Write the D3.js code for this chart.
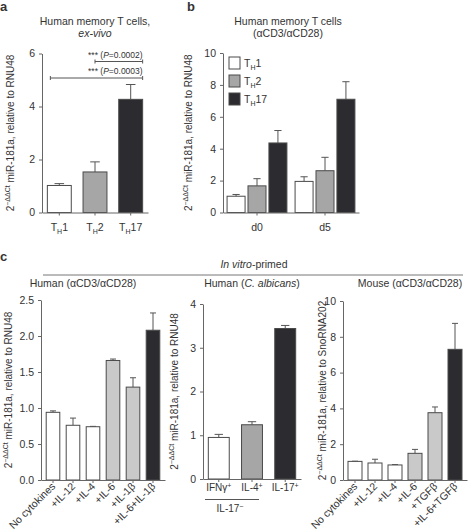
<!DOCTYPE html>
<html>
<head>
<meta charset="utf-8">
<script src="https://cdn.jsdelivr.net/npm/d3@7"></script>
<style>
  body { margin: 0; background: #fff; }
  svg text { font-family: "Liberation Sans", Arial, sans-serif; fill: #333; }
</style>
</head>
<body>
<svg id="fig" width="471" height="532"></svg>
<script>
// panel a - ex vivo
var aCats = ["TH1", "TH2", "TH17"];
var aMeans = [1.02, 1.53, 4.27];
var aErr = [0.07, 0.38, 0.56];
var aTicks = [0, 2, 4, 6];

// panel b - aCD3/aCD28 over time
var bDays = ["d0", "d5"];
var bSubsets = ["TH1", "TH2", "TH17"];
var bD0Means = [1.02, 1.67, 4.36];
var bD0Err = [0.11, 0.45, 0.78];
var bD5Means = [1.95, 2.62, 7.1];
var bD5Err = [0.29, 0.84, 1.1];
var bTicks = [0, 2, 4, 6, 8, 10];

// panel c1 - human aCD3/aCD28
var c1Cats = ["No cytokines", "+IL-12", "+IL-4", "+IL-6", "+IL-1\u03b2", "+IL-6+IL-1\u03b2"];
var c1Means = [0.94, 0.76, 0.74, 1.66, 1.29, 2.08];
var c1Err = [0.02, 0.1, 0.005, 0.02, 0.13, 0.24];
var c1Ticks = [0, 0.5, 1.0, 1.5, 2.0, 2.5];

// panel c2 - human C. albicans
var c2Cats = ["IFN\u03b3", "IL-4", "IL-17"];
var c2Means = [0.95, 1.24, 3.44];
var c2Err = [0.07, 0.07, 0.07];
var c2Ticks = [0, 1, 2, 3, 4];

// panel c3 - mouse
var c3Cats = ["No cytokines", "+IL-12", "+IL-4", "+IL-6", "+TGF\u03b2", "+IL-6+TGF\u03b2"];
var c3Means = [1.04, 0.95, 0.84, 1.49, 3.76, 7.3];
var c3Err = [0.01, 0.21, 0.02, 0.22, 0.32, 1.45];
var c3Ticks = [0, 2, 4, 6, 8, 10];

var WHITE = "#ffffff", MID = "#a6a6a6", LIGHT = "#c9c9c9", DARK = "#2b2b30";
var svg = d3.select("#fig");

function ylabel(x, yMid, ref) {
  var t = svg.append("text")
    .attr("transform", "translate(" + x + "," + yMid + ") rotate(-90)")
    .attr("text-anchor", "middle")
    .attr("font-size", 10);
  t.append("tspan").text("2");
  t.append("tspan").attr("font-size", 7).attr("dy", -4).text("\u2212\u0394\u0394Ct");
  t.append("tspan").attr("dy", 4).text(" miR-181a, relative to " + ref);
}

function subText(sel, base, sub, rest) {
  sel.append("tspan").text(base);
  sel.append("tspan").attr("font-size", 7).attr("dy", 2.5).text(sub);
  sel.append("tspan").attr("dy", -2.5).text(rest);
}

function yAxis(y, x0, ticks, fmt) {
  var g = svg.append("g").attr("transform", "translate(" + x0 + ",0)")
    .call(d3.axisLeft(y).tickValues(ticks).tickSize(3).tickSizeOuter(0).tickPadding(4).tickFormat(fmt));
  g.select(".domain").attr("stroke", "#666");
  g.selectAll(".tick line").attr("stroke", "#666");
  g.selectAll(".tick text").attr("font-size", 10.5).attr("fill", "#333")
    .attr("font-family", "Liberation Sans, Arial, sans-serif");
}

function xAxis(x, y0) {
  var g = svg.append("g").attr("transform", "translate(0," + y0 + ")")
    .call(d3.axisBottom(x).tickSize(3).tickSizeOuter(0).tickFormat(""));
  g.select(".domain").attr("stroke", "#666");
  g.selectAll(".tick line").attr("stroke", "#666");
}

function bars(cats, means, errs, colors, x, y, xOff) {
  var g = svg.append("g");
  var bw = x.bandwidth();
  var cap = Math.max(6, bw * 0.4);
  cats.forEach(function(c, i) {
    var cx = xOff + x(c) + bw / 2;
    g.append("line")
      .attr("x1", cx).attr("x2", cx)
      .attr("y1", y(means[i])).attr("y2", y(means[i] + errs[i]))
      .attr("stroke", "#555").attr("stroke-width", 1);
    g.append("line")
      .attr("x1", cx - cap / 2).attr("x2", cx + cap / 2)
      .attr("y1", y(means[i] + errs[i])).attr("y2", y(means[i] + errs[i]))
      .attr("stroke", "#555").attr("stroke-width", 1);
    g.append("rect")
      .attr("x", xOff + x(c)).attr("y", y(means[i]))
      .attr("width", bw).attr("height", y(0) - y(means[i]))
      .attr("fill", colors[i]).attr("stroke", "#4a4a4a").attr("stroke-width", 1);
  });
}

function panelLabel(txt, x, y) {
  svg.append("text").attr("x", x).attr("y", y).attr("font-size", 13)
    .attr("font-weight", "bold").attr("fill", "#111").text(txt);
}

// ---------- panel a ----------
panelLabel("a", 0, 11);
var aY = d3.scaleLinear().domain([0, 6]).range([212.5, 53.5]);
var aX = d3.scaleBand().domain(aCats).range([42, 148]).paddingInner(0.33).paddingOuter(0.15);
svg.append("text").attr("x", 95).attr("y", 25).attr("text-anchor", "middle").attr("font-size", 10.5)
  .text("Human memory T cells,");
svg.append("text").attr("x", 95).attr("y", 37).attr("text-anchor", "middle").attr("font-size", 10.5)
  .attr("font-style", "italic").text("ex-vivo");
bars(aCats, aMeans, aErr, [WHITE, MID, DARK], aX, aY, 0);
yAxis(aY, 42, aTicks, d3.format("d"));
xAxis(aX, 212.5);
aCats.forEach(function(c) {
  var t = svg.append("text").attr("x", aX(c) + aX.bandwidth() / 2).attr("y", 231)
    .attr("text-anchor", "middle").attr("font-size", 10.5);
  subText(t, "T", "H", c.slice(2));
});
ylabel(14, (aY(0) + aY(6)) / 2, "RNU48");

// significance brackets
function bracket(x1, x2, yy, label) {
  svg.append("path")
    .attr("d", "M" + x1 + "," + (yy - 2) + "V" + (yy + 2) + "M" + x1 + "," + yy + "H" + x2 + "M" + x2 + "," + (yy - 2) + "V" + (yy + 2))
    .attr("fill", "none").attr("stroke", "#555");
  var t = svg.append("text").attr("x", x2).attr("y", yy - 4).attr("text-anchor", "end").attr("font-size", 8.5);
  t.append("tspan").text("*** (");
  t.append("tspan").attr("font-style", "italic").text("P");
  t.append("tspan").text("=" + label + ")");
}
var c1x = aX("TH2") + aX.bandwidth() / 2, c2x = aX("TH17") + aX.bandwidth();
bracket(c1x, c2x, 61.5, "0.0002");
bracket(aX("TH1") + 3, c2x, 78, "0.0003");

// ---------- panel b ----------
panelLabel("b", 187, 11);
var bY = d3.scaleLinear().domain([0, 10]).range([212.5, 53]);
var bX = d3.scaleBand().domain(bDays).range([223, 359]).paddingInner(0.12).paddingOuter(0.06);
var bInner = d3.scaleBand().domain(bSubsets).range([0, bX.bandwidth()]).paddingInner(0.14);
svg.append("text").attr("x", 288).attr("y", 25).attr("text-anchor", "middle").attr("font-size", 10.5)
  .text("Human memory T cells");
svg.append("text").attr("x", 288).attr("y", 37).attr("text-anchor", "middle").attr("font-size", 10.5)
  .text("(\u03b1CD3/\u03b1CD28)");
bars(bSubsets, bD0Means, bD0Err, [WHITE, MID, DARK], bInner, bY, bX("d0"));
bars(bSubsets, bD5Means, bD5Err, [WHITE, MID, DARK], bInner, bY, bX("d5"));
yAxis(bY, 223, bTicks, d3.format("d"));
xAxis(bX, 212.5);
bDays.forEach(function(d) {
  svg.append("text").attr("x", bX(d) + bX.bandwidth() / 2).attr("y", 231)
    .attr("text-anchor", "middle").attr("font-size", 10.5).text(d);
});
ylabel(192, (bY(0) + bY(10)) / 2, "RNU48");
// legend
bSubsets.forEach(function(s, i) {
  var col = [WHITE, MID, DARK][i];
  svg.append("rect").attr("x", 229).attr("y", 57 + i * 18).attr("width", 11).attr("height", 12)
    .attr("fill", col).attr("stroke", "#4a4a4a");
  var t = svg.append("text").attr("x", 244).attr("y", 67 + i * 18).attr("font-size", 10.5);
  subText(t, "T", "H", s.slice(2));
});

// ---------- panel c ----------
panelLabel("c", 0, 261);
var it = svg.append("text").attr("x", 254).attr("y", 268).attr("text-anchor", "middle").attr("font-size", 10.5);
it.append("tspan").attr("font-style", "italic").text("In vitro");
it.append("tspan").text("-primed");
svg.append("line").attr("x1", 43).attr("x2", 463).attr("y1", 275).attr("y2", 275).attr("stroke", "#777");

function rotLabels(x, cats, y0) {
  cats.forEach(function(c) {
    var cx = x(c) + x.bandwidth() / 2;
    svg.append("text")
      .attr("transform", "translate(" + (cx + 3) + "," + (y0 + 7) + ") rotate(-45)")
      .attr("text-anchor", "end").attr("font-size", 10.5).text(c);
  });
}

// c1
var c1Y = d3.scaleLinear().domain([0, 2.5]).range([480, 300]);
var c1X = d3.scaleBand().domain(c1Cats).range([41, 165]).paddingInner(0.32).paddingOuter(0.26);
svg.append("text").attr("x", 83).attr("y", 287).attr("text-anchor", "middle").attr("font-size", 10.5)
  .text("Human (\u03b1CD3/\u03b1CD28)");
bars(c1Cats, c1Means, c1Err, [WHITE, WHITE, WHITE, LIGHT, LIGHT, DARK], c1X, c1Y, 0);
yAxis(c1Y, 41, c1Ticks, d3.format(".1f"));
xAxis(c1X, 480);
rotLabels(c1X, c1Cats, 480);
ylabel(12, (c1Y(0) + c1Y(2.5)) / 2, "RNU48");

// c2
var c2Y = d3.scaleLinear().domain([0, 4]).range([479, 304]);
var c2X = d3.scaleBand().domain(c2Cats).range([203, 301]).paddingInner(0.37).paddingOuter(0.16);
var ct = svg.append("text").attr("x", 252).attr("y", 287).attr("text-anchor", "middle").attr("font-size", 10.5);
ct.append("tspan").text("Human (");
ct.append("tspan").attr("font-style", "italic").text("C. albicans");
ct.append("tspan").text(")");
bars(c2Cats, c2Means, c2Err, [WHITE, MID, DARK], c2X, c2Y, 0);
yAxis(c2Y, 203, c2Ticks, d3.format("d"));
xAxis(c2X, 479);
c2Cats.forEach(function(c) {
  var t = svg.append("text").attr("x", c2X(c) + c2X.bandwidth() / 2).attr("y", 491)
    .attr("text-anchor", "middle").attr("font-size", 10);
  t.append("tspan").text(c);
  t.append("tspan").attr("font-size", 7).attr("dy", -3.5).text("+");
});
svg.append("line").attr("x1", 205).attr("x2", 259).attr("y1", 499.5).attr("y2", 499.5).attr("stroke", "#555");
var lt = svg.append("text").attr("x", 230).attr("y", 512).attr("text-anchor", "middle").attr("font-size", 10);
lt.append("tspan").text("IL-17");
lt.append("tspan").attr("font-size", 7).attr("dy", -3.5).text("\u2212");
ylabel(178, (c2Y(0) + c2Y(4)) / 2, "RNU48");

// c3
var c3Y = d3.scaleLinear().domain([0, 10]).range([480, 301]);
var c3X = d3.scaleBand().domain(c3Cats).range([343, 467]).paddingInner(0.3).paddingOuter(0.25);
svg.append("text").attr("x", 410).attr("y", 287).attr("text-anchor", "middle").attr("font-size", 10.5)
  .text("Mouse (\u03b1CD3/\u03b1CD28)");
bars(c3Cats, c3Means, c3Err, [WHITE, WHITE, WHITE, LIGHT, LIGHT, DARK], c3X, c3Y, 0);
yAxis(c3Y, 343, c3Ticks, d3.format("d"));
xAxis(c3X, 480);
rotLabels(c3X, c3Cats, 480);
ylabel(326, (c3Y(0) + c3Y(10)) / 2, "SnoRNA202");
</script>
</body>
</html>
